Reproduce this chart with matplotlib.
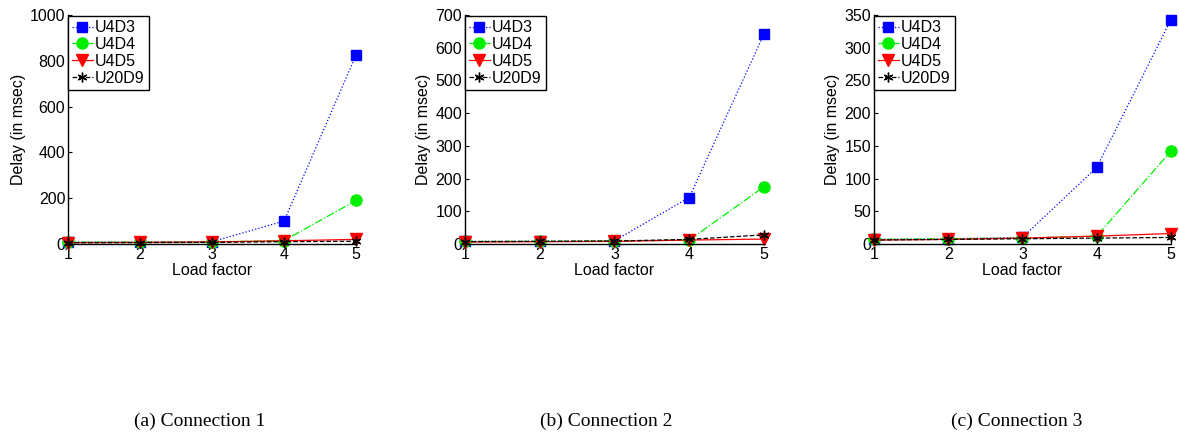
import matplotlib
matplotlib.use("Agg")
import matplotlib.pyplot as plt

load = [1, 2, 3, 4, 5]
series_names = ["U4D3", "U4D4", "U4D5", "U20D9"]

c1_u4d3 = [8, 8, 10, 100, 825]
c1_u4d4 = [8, 8, 9, 15, 190]
c1_u4d5 = [6, 7, 9, 14, 20]
c1_u20d9 = [5, 6, 7, 10, 12]

c2_u4d3 = [8, 8, 10, 142, 642]
c2_u4d4 = [8, 8, 9, 12, 175]
c2_u4d5 = [6, 7, 8, 12, 15]
c2_u20d9 = [7, 8, 9, 14, 28]

c3_u4d3 = [7, 8, 10, 117, 343]
c3_u4d4 = [7, 8, 9, 12, 142]
c3_u4d5 = [6, 7, 9, 12, 16]
c3_u20d9 = [6, 7, 8, 9, 10]

ylims = [1000, 700, 350]
yticks = [[0, 200, 400, 600, 800, 1000],
          [0, 100, 200, 300, 400, 500, 600, 700],
          [0, 50, 100, 150, 200, 250, 300, 350]]
captions = ["(a) Connection 1", "(b) Connection 2", "(c) Connection 3"]

panels = [[c1_u4d3, c1_u4d4, c1_u4d5, c1_u20d9],
          [c2_u4d3, c2_u4d4, c2_u4d5, c2_u20d9],
          [c3_u4d3, c3_u4d4, c3_u4d5, c3_u20d9]]

styles = [dict(color="#0000ff", linestyle=":", marker="s", markersize=7),
          dict(color="#00ee00", linestyle="-.", marker="o", markersize=8),
          dict(color="#ff0000", linestyle="-", marker="v", markersize=8),
          dict(color="black", linestyle="--", marker=(6, 2, 0), markersize=7, markeredgewidth=1.0)]

plt.rcParams['font.family'] = ['Liberation Sans', 'DejaVu Sans']
FS = 11.5

fig = plt.figure(figsize=(11.79, 4.36), dpi=100)
positions = [[0.0577, 0.4404, 0.2443, 0.5252],
             [0.3944, 0.4404, 0.2536, 0.5252],
             [0.7413, 0.4404, 0.2519, 0.5252]]
cap_x = [200 / 1179, 606 / 1179, 1017 / 1179]

for i, pos in enumerate(positions):
    ax = fig.add_axes(pos)
    for name, vals, st in zip(series_names, panels[i], styles):
        ax.plot(load, vals, label=name, linewidth=0.9, clip_on=False,
                markeredgecolor=st["color"], **st)
    ax.set_xlim(1, 5)
    ax.set_ylim(0, ylims[i])
    ax.set_xticks(load)
    ax.set_yticks(yticks[i])
    ax.spines['top'].set_visible(False)
    ax.spines['right'].set_visible(False)
    ax.spines['left'].set_linewidth(1.0)
    ax.spines['bottom'].set_linewidth(1.0)
    ax.tick_params(direction='in', length=3, labelsize=FS, pad=2)
    ax.set_xlabel("Load factor", fontsize=FS, labelpad=1)
    ax.set_ylabel("Delay (in msec)", fontsize=FS, labelpad=3)
    leg = ax.legend(loc='upper left', fontsize=FS, handlelength=1.3,
                    handletextpad=0.15, borderpad=0.25, labelspacing=0.12,
                    borderaxespad=0.0, fancybox=False, framealpha=1,
                    bbox_to_anchor=(0.0, 0.995))
    leg.get_frame().set_edgecolor('black')
    leg.get_frame().set_linewidth(1.0)
    fig.text(cap_x[i], 1 - 421 / 436, captions[i], ha='center', va='center',
             fontsize=14, family=['Liberation Serif', 'DejaVu Serif'])

fig.savefig("out.png", dpi=100)
